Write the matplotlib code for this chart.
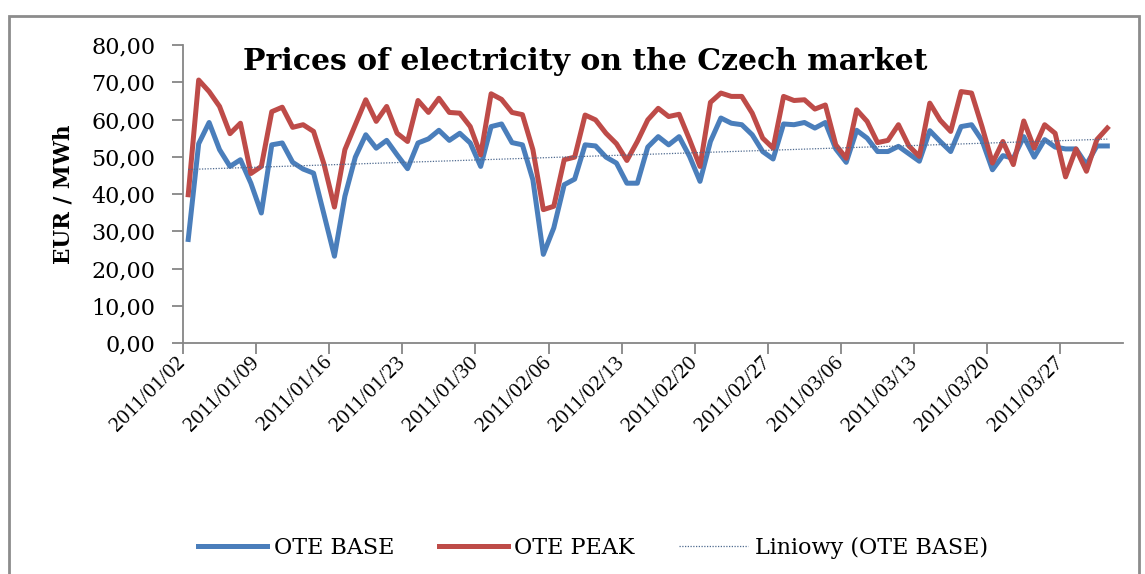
import matplotlib
matplotlib.use("Agg")
import matplotlib.pyplot as plt
import matplotlib.dates as mdates
from matplotlib.patches import Rectangle
from matplotlib.transforms import ScaledTranslation
import numpy as np

# daily prices 2011/01/02 .. 2011/03/31 (EUR / MWh)
start_day = np.datetime64("2011-01-02")
ote_base = [27.8, 53.5, 59.2, 51.9, 47.4, 49.2, 42.9, 34.9, 53.2, 53.7,
            48.5, 46.7, 45.6, 34.5, 23.3, 39.4, 49.9, 55.9, 52.3, 54.4,
            50.5, 46.8, 53.7, 54.8, 57.1, 54.4, 56.3, 53.7, 47.4, 58.1,
            58.8, 53.8, 53.2, 43.8, 23.8, 30.9, 42.5, 44.0, 53.2, 52.9,
            49.9, 48.3, 42.9, 42.9, 52.6, 55.4, 53.2, 55.4, 50.1, 43.4,
            54.1, 60.4, 59.0, 58.6, 55.9, 51.4, 49.4, 58.8, 58.6, 59.2,
            57.7, 59.2, 52.1, 48.5, 57.1, 55.0, 51.4, 51.4, 52.8, 50.8,
            48.8, 57.0, 54.1, 51.4, 58.1, 58.6, 54.4, 46.5, 50.3, 49.6,
            55.4, 49.9, 54.6, 52.6, 52.1, 52.1, 47.9, 52.9, 52.9]
ote_peak = [39.8, 70.6, 67.5, 63.5, 56.2, 59.0, 45.5, 47.4, 62.1, 63.3,
            57.9, 58.6, 56.8, 48.0, 36.5, 51.9, 58.6, 65.3, 59.5, 63.5,
            56.3, 54.1, 65.1, 61.9, 65.7, 61.9, 61.7, 58.1, 50.5, 66.9,
            65.4, 61.9, 61.3, 51.9, 35.8, 36.7, 49.2, 49.9, 61.2, 59.9,
            56.3, 53.5, 49.0, 54.1, 59.9, 63.0, 60.8, 61.4, 54.6, 47.4,
            64.6, 67.1, 66.2, 66.2, 61.7, 55.0, 52.3, 66.2, 65.1, 65.3,
            62.8, 63.9, 53.2, 49.6, 62.6, 59.5, 53.8, 54.4, 58.6, 52.9,
            50.1, 64.4, 59.8, 56.8, 67.5, 67.1, 58.1, 48.3, 54.1, 47.9,
            59.6, 52.3, 58.6, 56.3, 44.6, 52.1, 46.1, 54.6, 57.7]
series_names = ["OTE BASE", "OTE PEAK", "Liniowy (OTE BASE)"]
y_ticks = [0, 10, 20, 30, 40, 50, 60, 70, 80]

days = start_day + np.arange(len(ote_base))
dates = days.astype("datetime64[D]").astype(object)

# linear trend of the base series
idx = np.arange(len(ote_base))
slope, icpt = np.polyfit(idx, ote_base, 1)
trend = slope * idx + icpt

fig = plt.figure(figsize=(11.45, 5.74), dpi=100)
plt.rcParams["font.family"] = "DejaVu Serif"

ax = fig.add_axes([183 / 1145, 1 - 343 / 574, 940 / 1145, 298 / 574])

l_base, = ax.plot(dates, ote_base, color="#4a7ebb", lw=3.6, solid_joinstyle="round")
l_peak, = ax.plot(dates, ote_peak, color="#be4b48", lw=3.6, solid_joinstyle="round")
l_trend, = ax.plot(dates, trend, color="#4f6a8f", lw=0.9, ls=(0, (1, 1.2)))

x0 = mdates.date2num(dates[0]) - 0.5
ax.set_xlim(x0, x0 + 90)
ax.set_ylim(0, 80)
ax.set_yticks(y_ticks)
ax.set_yticklabels([f"{v:.2f}".replace(".", ",") for v in y_ticks])

tick_pos = [x0 + 7 * k for k in range(13)]
ax.set_xticks(tick_pos)
ax.set_xticklabels([mdates.num2date(t + 0.5).strftime("%Y/%m/%d") for t in tick_pos],
                   rotation=45, ha="right", va="center", rotation_mode="anchor",
                   family="Liberation Serif", fontsize=15.5)
shift = ScaledTranslation(0.15, 0, fig.dpi_scale_trans)
for lab in ax.get_xticklabels():
    lab.set_transform(lab.get_transform() + shift)

for side in ["top", "right"]:
    ax.spines[side].set_visible(False)
for side in ["left", "bottom"]:
    ax.spines[side].set_color("#868686")
    ax.spines[side].set_linewidth(1.3)
ax.tick_params(axis="y", direction="out", length=8, width=1.3, color="#868686",
               labelsize=16, pad=12)
ax.tick_params(axis="x", direction="out", length=8, width=1.3, color="#868686",
               pad=4)

ax.set_ylabel("EUR / MWh", fontsize=15.5, fontweight="bold", labelpad=12)
fig.text(0.511, 1 - 62 / 574, "Prices of electricity on the Czech market",
         fontsize=21.5, fontweight="bold", ha="center", va="center")

fig.legend([l_base, l_peak, l_trend], series_names, loc="center",
           bbox_to_anchor=(593 / 1145, 26 / 574), ncol=3, frameon=False,
           fontsize=16, handlelength=3.1, handletextpad=0.3, columnspacing=2.0)

fig.patches.append(Rectangle((9 / 1145, -0.05), 1130 / 1145, 1 - 16 / 574 + 0.05,
                             transform=fig.transFigure, fill=False,
                             edgecolor="#8c8c8c", lw=2))

fig.savefig("out.png", dpi=100)
